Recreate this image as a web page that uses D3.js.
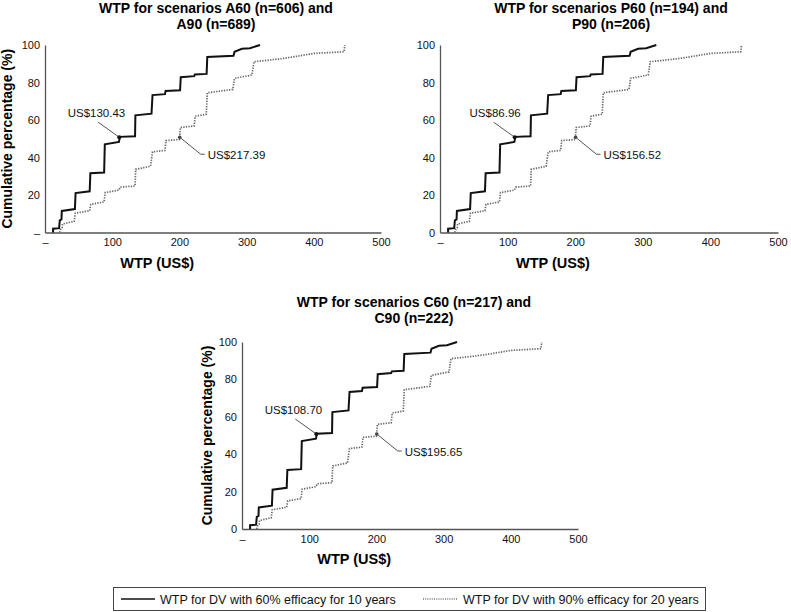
<!DOCTYPE html>
<html>
<head>
<meta charset="utf-8">
<script src="https://cdn.jsdelivr.net/npm/d3@7"></script>
<style>
  body { margin: 0; background: #fff; }
  svg { font-family: "Liberation Sans", Arial, sans-serif; }
</style>
</head>
<body>
<svg id="chart" width="791" height="612"></svg>
<script>
// cumulative WTP curves (same shape in all three panels), [WTP US$, cumulative %]
var wtp60 = [[12,0],[12,2],[21,2.3],[22,6.5],[24.5,7],[25,11.5],[44.5,12.5],[45.5,21],[66.5,22],[67.5,31.6],
    [88,32],[89,47],[110,48.3],[111.5,51],[134,51.3],[134.5,62.5],[158.5,63.4],[160,73.3],[178.5,73.8],
    [179.5,75.5],[201,75.9],[202,82.8],[222,83.4],[223,84.3],[240.5,84.6],[241.5,93.6],[280.5,94.3],
    [282,96.4],[293,98],[305,98.3],[320,100]];
var wtp90 = [[22,0],[23,1.5],[25.5,2.5],[26,4.5],[43.5,6],[45,10.3],[66.5,11.6],[68,15],[88,16.3],[89.5,21.3],
    [110,22.6],[112,24.2],[134,24.8],[135,33.7],[157,35.3],[160,43],[178.5,43.8],[180,49],[200,49.6],
    [201.5,56],[222,56.8],[223.5,62],[240,63.1],[241.5,74.5],[279.5,76.3],[282,82.2],[308,84],[311,91.1],
    [330,91.8],[358,93],[400,95.5],[445,96.4],[446,100]];

var xTicks = [0, 100, 200, 300, 400, 500];
var yTicks = [0, 20, 40, 60, 80, 100];

var panelTitles = [
    ["WTP for scenarios A60 (n=606) and", "A90 (n=689)"],
    ["WTP for scenarios P60 (n=194) and", "P90 (n=206)"],
    ["WTP for scenarios C60 (n=217) and", "C90 (n=222)"]
];
var median60Labels = ["US$130.43", "US$86.96", "US$108.70"];
var median90Labels = ["US$217.39", "US$156.52", "US$195.65"];
var median60Point = [110.5, 50.8];
var median90Point = [200.5, 50.8];

var legendLabels = ["WTP for DV with 60% efficacy for 10 years", "WTP for DV with 90% efficacy for 20 years"];

var svg = d3.select("#chart");

// pixel frame of each panel
var panels = [
    {x0: 45, x1: 381, y0: 232.5, y1: 45, titleX: 216, titleY: 13, yLabel: true, labX: 12, zeroY: "–"},
    {x0: 440, x1: 778, y0: 232.5, y1: 45, titleX: 611, titleY: 13, yLabel: false, zeroY: "0"},
    {x0: 242, x1: 578, y0: 529, y1: 342, titleX: 414, titleY: 307, yLabel: true, labX: 212, zeroY: "0"}
];

function drawPanel(p, i) {
    var x = d3.scaleLinear().domain([0, 500]).range([p.x0, p.x1]);
    var y = d3.scaleLinear().domain([0, 100]).range([p.y0, p.y1]);
    var g = svg.append("g");

    // title
    var t = g.append("text").attr("x", p.titleX).attr("y", p.titleY)
        .attr("text-anchor", "middle").style("font-weight", "bold").style("font-size", "14px");
    panelTitles[i].forEach(function (line, k) {
        t.append("tspan").attr("x", p.titleX).attr("dy", k == 0 ? 0 : 16).text(line);
    });

    var xAxis = d3.axisBottom(x).tickValues(xTicks).tickSize(0).tickPadding(6)
        .tickFormat(function (d) { return d == 0 ? "–" : d; });
    var gx = g.append("g").attr("transform", "translate(0," + p.y0 + ")").call(xAxis);
    var yAxis = d3.axisLeft(y).tickValues(yTicks).tickSize(0).tickPadding(5)
        .tickFormat(function (d) { return d == 0 ? p.zeroY : d; });
    var gy = g.append("g").attr("transform", "translate(" + p.x0 + ",0)").call(yAxis);
    [gx, gy].forEach(function (a) {
        a.select(".domain").attr("stroke", "#555").attr("stroke-width", 1.3);
        a.selectAll("text").style("font-size", "11px").attr("fill", "#111")
            .style("font-family", "'Liberation Sans', Arial, sans-serif");
    });

    g.append("text").attr("x", (p.x0 + x(340)) / 2 - 2).attr("y", p.y0 + 35)
        .attr("text-anchor", "middle").style("font-weight", "bold").style("font-size", "14.5px")
        .text("WTP (US$)");
    if (p.yLabel) {
        g.append("text").attr("transform", "translate(" + p.labX + "," + (p.y0 + p.y1) / 2 + ") rotate(-90)")
            .attr("text-anchor", "middle").style("font-weight", "bold").style("font-size", "14px")
            .text("Cumulative percentage (%)");
    }

    var line = d3.line().x(function (d) { return x(d[0]); }).y(function (d) { return y(d[1]); });
    g.append("path").datum(wtp90).attr("d", line).attr("fill", "none")
        .attr("stroke", "#666").attr("stroke-width", 1.7).attr("stroke-dasharray", "1.3,1.3");
    g.append("path").datum(wtp60).attr("d", line).attr("fill", "none")
        .attr("stroke", "#111").attr("stroke-width", 2).attr("stroke-linejoin", "miter");

    // median annotations
    var ax = x(median60Point[0]), ay = y(median60Point[1]);
    g.append("line").attr("x1", ax - 21).attr("y1", ay - 15).attr("x2", ax).attr("y2", ay)
        .attr("stroke", "#555").attr("stroke-width", 1);
    g.append("circle").attr("cx", ax).attr("cy", ay).attr("r", 2).attr("fill", "#111");
    g.append("text").attr("x", ax + 6).attr("y", ay - 20).attr("text-anchor", "end")
        .style("font-size", "11.5px").attr("fill", "#111").text(median60Labels[i]);

    var bx = x(median90Point[0]), by = y(median90Point[1]);
    g.append("polyline").attr("points", [[bx, by], [bx + 21, by + 17], [bx + 25, by + 17]].join(" "))
        .attr("fill", "none").attr("stroke", "#555").attr("stroke-width", 1);
    g.append("circle").attr("cx", bx).attr("cy", by).attr("r", 1.8).attr("fill", "#444");
    g.append("text").attr("x", bx + 28).attr("y", by + 21.5)
        .style("font-size", "11.5px").attr("fill", "#111").text(median90Labels[i]);
}

panels.forEach(drawPanel);

// legend
var lg = svg.append("g");
lg.append("rect").attr("x", 113.5).attr("y", 587.5).attr("width", 592).attr("height", 23)
    .attr("fill", "none").attr("stroke", "#444").attr("stroke-width", 1);
lg.append("line").attr("x1", 121).attr("x2", 155).attr("y1", 599).attr("y2", 599)
    .attr("stroke", "#111").attr("stroke-width", 1.3);
lg.append("text").attr("x", 160).attr("y", 603.5).style("font-size", "12.5px").attr("fill", "#111")
    .text(legendLabels[0]);
lg.append("line").attr("x1", 423).attr("x2", 457).attr("y1", 599).attr("y2", 599)
    .attr("stroke", "#333").attr("stroke-width", 1.2).attr("stroke-dasharray", "1,1.2");
lg.append("text").attr("x", 463).attr("y", 603.5).style("font-size", "12.5px").attr("fill", "#111")
    .text(legendLabels[1]);
</script>
</body>
</html>
